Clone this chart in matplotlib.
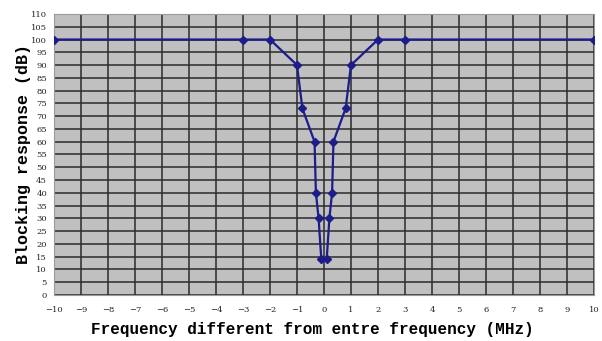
import matplotlib
matplotlib.use("Agg")
import matplotlib.pyplot as plt
import numpy as np

freq = [-10, -3, -2, -1, -0.8, -0.35, -0.3, -0.2, -0.1, 0.1, 0.2, 0.3, 0.35, 0.8, 1, 2, 3, 10]
resp = [100, 100, 100, 90, 73, 60, 40, 30, 14, 14, 30, 40, 60, 73, 90, 100, 100, 100]
xticks = list(range(-10, 11))
yticks = list(range(0, 111, 5))

fig = plt.figure(figsize=(6.02, 3.41), dpi=100)
ax = fig.add_axes([0.0897, 0.135, 0.897, 0.824])
ax.set_facecolor("#c0c0c0")
ax.plot(freq, resp, color="#1c1c8a", lw=1.6, marker="D", ms=4, zorder=3)
ax.set_xlim(-10, 10)
ax.set_ylim(0, 110)
ax.set_xticks(xticks)
ax.set_yticks(yticks)
ax.grid(True, color="#2a2a2a", lw=1.1)
ax.set_axisbelow(True)
for s in ax.spines.values():
    s.set_color("#9a9a9a")
    s.set_linewidth(0.8)
ax.tick_params(length=0, labelsize=6, colors="#222222")
ax.tick_params(axis="x", pad=8)
ax.tick_params(axis="y", pad=5)
for lab in ax.get_xticklabels() + ax.get_yticklabels():
    lab.set_family("DejaVu Serif")
ax.set_xlabel("Frequency different from entre frequency (MHz)",
              family="Liberation Mono", weight="bold", fontsize=11.5)
ax.xaxis.set_label_coords(0.478, -0.096)
ax.set_ylabel("Blocking response (dB)",
              family="Liberation Mono", weight="bold", fontsize=12, labelpad=0)
fig.savefig("out.png", dpi=100)
